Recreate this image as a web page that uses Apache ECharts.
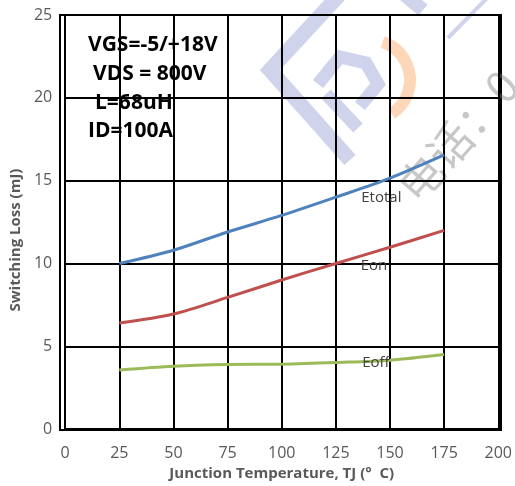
<!DOCTYPE html>
<html lang="en">
<head>
    <meta charset="UTF-8">
    <title>Switching Loss vs Junction Temperature</title>
    <script src="https://cdn.jsdelivr.net/npm/echarts@6/dist/echarts.min.js"></script>
    <style>
        html, body { margin: 0; padding: 0; background: #fff; }
        #chart { width: 515px; height: 486px; }
    </style>
</head>
<body>
    <div id="chart"></div>
    <script>
        // 数据
        var temps = [25, 50, 75, 100, 125, 150, 175];
        var etotal = [10.0, 10.8, 11.9, 12.9, 14.0, 15.15, 16.55];
        var eon = [6.4, 6.95, 7.95, 9.0, 10.0, 10.98, 12.0];
        var eoff = [3.57, 3.8, 3.9, 3.92, 4.02, 4.16, 4.5];
        var notes = ['VGS=-5/+18V', 'VDS = 800V', 'L=68uH', 'ID=100A'];
        var noteLeft = [88, 93, 95, 88];

        function pairs(ys) {
            var out = [];
            for (var i = 0; i < temps.length; i++) {
                out.push([temps[i], ys[i]]);
            }
            return out;
        }

        // 曲线旁边的标签
        function tag(text, x, y) {
            return {
                symbol: 'circle',
                symbolSize: 2,
                silent: true,
                itemStyle: { color: 'transparent' },
                label: { show: true, position: 'inside', formatter: text, color: '#404040', fontSize: 15, fontFamily: 'Open Sans' },
                data: [{ coord: [x, y], name: text }]
            };
        }

        var myChart = echarts.init(document.getElementById('chart'));
        var axisFont = { color: '#595959', fontSize: 16, fontFamily: 'Open Sans' };
        var nameFont = { color: '#595959', fontSize: 15, fontWeight: 'bold', fontFamily: 'Open Sans' };

        // 背景水印（半透明）
        var blue = '#8c96d2';
        var mark = [
            { type: 'polyline', shape: { points: [[342, -8], [270, 70], [350, 160]] }, style: { stroke: blue, lineWidth: 15, fill: null } },
            { type: 'polyline', shape: { points: [[318, 84], [340, 57], [366, 63], [378, 84], [360, 106]] }, style: { stroke: blue, lineWidth: 13, fill: null } },
            { type: 'polyline', shape: { points: [[326, 94], [358, 128]] }, style: { stroke: blue, lineWidth: 13, fill: null } },
            { type: 'polyline', shape: { points: [[405, -5], [423, 10]] }, style: { stroke: blue, lineWidth: 14, fill: null } },
            { type: 'polyline', shape: { points: [[490, -5], [448, 38]] }, style: { stroke: blue, lineWidth: 4, fill: null } },
            { type: 'arc', shape: { cx: 370, cy: 80, r: 40, startAngle: -1.25, endAngle: 1.0 }, style: { stroke: '#fb9f5a', lineWidth: 12, fill: null } },
            {
                type: 'text', x: 458, y: 136, rotation: 0.85,
                style: { text: '电话：0', fill: '#7a7a7a', font: '44px "Noto Sans CJK SC"', align: 'center', verticalAlign: 'middle' }
            }
        ];
        mark.forEach(function (m) { m.silent = true; m.style.opacity = 0.42; });

        var noteText = notes.map(function (t, i) {
            return {
                type: 'text', left: noteLeft[i], top: 35 + i * 28.6, z: 10,
                style: { text: t, fill: '#000', font: 'bold 21px "Open Sans"' }
            };
        });

        var option = {
            animation: false,
            grid: { left: 60, right: 14, top: 15, bottom: 56 },
            xAxis: {
                type: 'value',
                min: 0, max: 200, interval: 25,
                name: 'Junction Temperature, TJ (°  C)',
                nameLocation: 'middle',
                nameGap: 36,
                nameTextStyle: nameFont,
                axisLine: { lineStyle: { color: '#000', width: 2 } },
                axisTick: { show: false },
                axisLabel: Object.assign({ margin: 16 }, axisFont),
                splitLine: { lineStyle: { color: '#000', width: 2 } }
            },
            yAxis: {
                type: 'value',
                min: 0, max: 25, interval: 5,
                name: 'Switching Loss (mJ)',
                nameLocation: 'middle',
                nameGap: 34,
                nameTextStyle: Object.assign({ padding: [0, 36, 0, 0] }, nameFont),
                axisLine: { show: true, lineStyle: { color: '#000', width: 2 } },
                axisTick: { show: false },
                axisLabel: Object.assign({ margin: 13 }, axisFont),
                splitLine: { lineStyle: { color: '#000', width: 2 } }
            },
            graphic: [
                { type: 'rect', shape: { x: 60, y: 15, width: 441, height: 415 }, style: { fill: 'none', stroke: '#000', lineWidth: 2 }, silent: true }
            ].concat(mark).concat(noteText),
            series: [
                {
                    name: 'Etotal', type: 'line', smooth: 0.3, showSymbol: false,
                    lineStyle: { color: '#4f81bd', width: 3 }, itemStyle: { color: '#4f81bd' },
                    data: pairs(etotal), markPoint: tag('Etotal', 146, 13.98)
                },
                {
                    name: 'Eon', type: 'line', smooth: 0.3, showSymbol: false,
                    lineStyle: { color: '#c0504d', width: 3 }, itemStyle: { color: '#c0504d' },
                    data: pairs(eon), markPoint: tag('Eon', 142.6, 9.88)
                },
                {
                    name: 'Eoff', type: 'line', smooth: 0.3, showSymbol: false,
                    lineStyle: { color: '#9bbb59', width: 3 }, itemStyle: { color: '#9bbb59' },
                    data: pairs(eoff), markPoint: tag('Eoff', 143.5, 3.98)
                }
            ]
        };

        myChart.setOption(option);
    </script>
</body>
</html>
